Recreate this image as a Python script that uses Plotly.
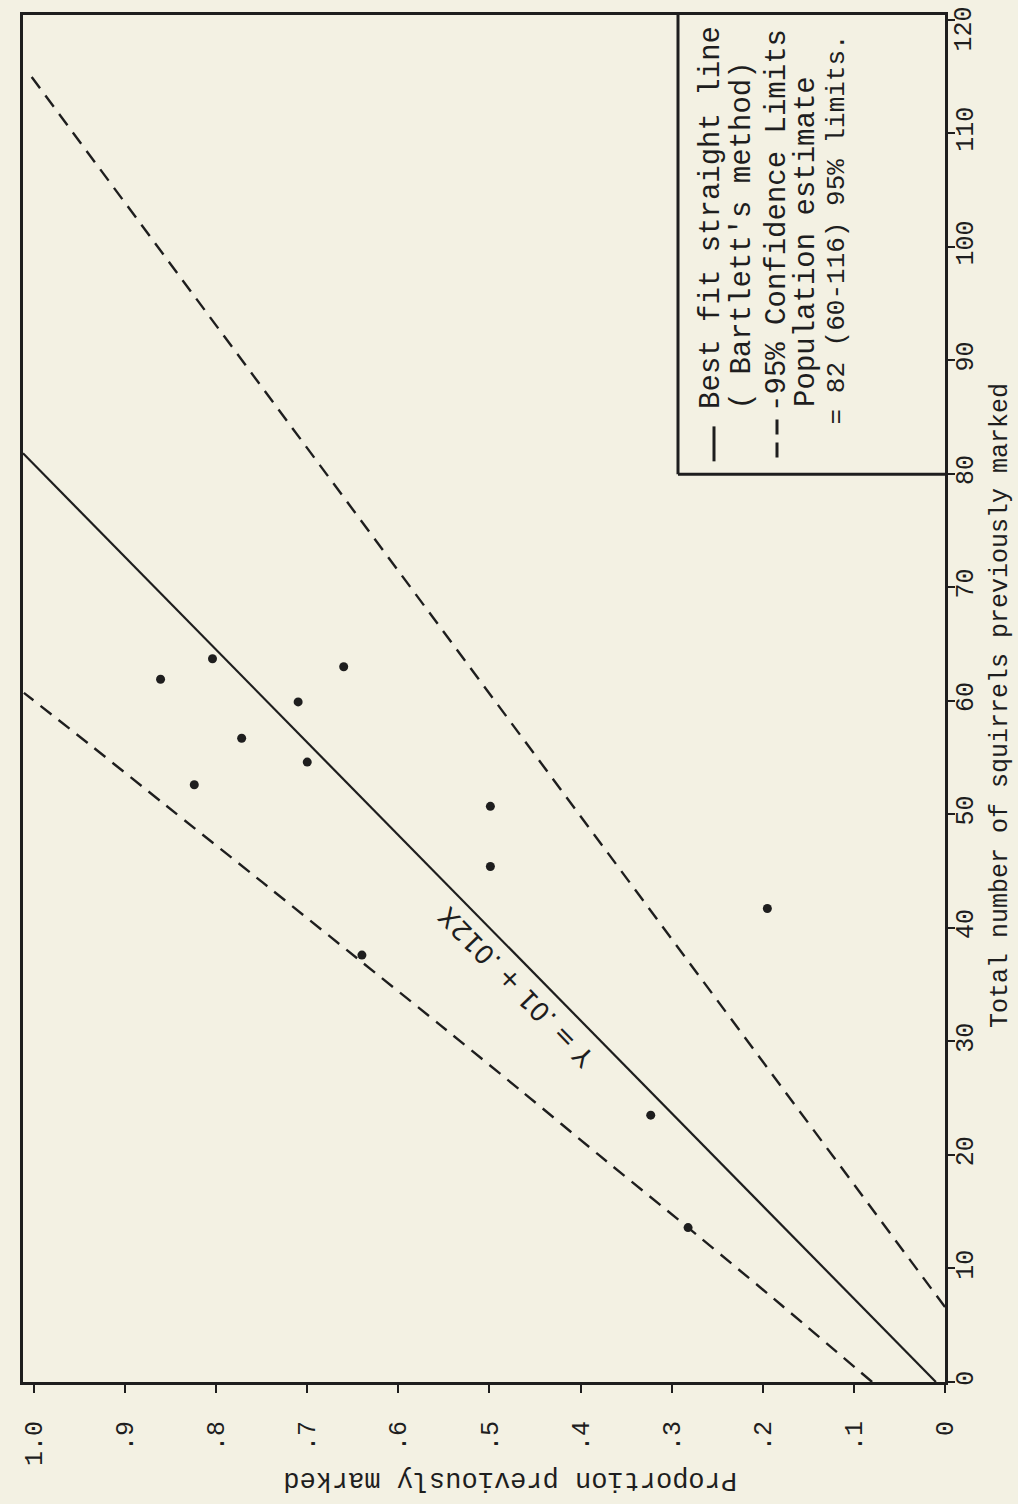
import plotly.graph_objects as go

# ---------------- data ----------------
# observed points: proportion previously marked vs total number previously marked
obs_total = [63.7, 61.9, 63.0, 59.9, 56.7, 54.6, 52.6, 50.7, 45.4, 37.6, 41.7, 23.5, 13.6]
obs_prop = [0.804, 0.861, 0.660, 0.710, 0.772, 0.700, 0.824, 0.499, 0.499, 0.640, 0.195, 0.323, 0.282]

# best fit straight line (Bartlett's method), Y = .01 + .012X
fit_total = [0.0, 81.8]
fit_prop = [0.01, 1.012]

# 95% confidence limits
upper_total = [0.0, 6.8, 13.6, 20.0, 25.5, 31.5, 37.3, 44.0, 50.9, 55.9, 60.7]
upper_prop = [0.08, 0.180, 0.282, 0.380, 0.463, 0.555, 0.645, 0.749, 0.857, 0.935, 1.011]
lower_total = [6.6, 115.1]
lower_prop = [0.0, 1.004]

prop_ticks = [0, 0.1, 0.2, 0.3, 0.4, 0.5, 0.6, 0.7, 0.8, 0.9, 1.0]
prop_ticktext = ["0", ".1", ".2", ".3", ".4", ".5", ".6", ".7", ".8", ".9", "1.0"]
total_ticks = [0, 10, 20, 30, 40, 50, 60, 70, 80, 90, 100, 110, 120]
total_ticktext = ["0", "10", "20", "30", "40", "50", "60", "70", "80", "90", "100", "110", "120"]

legend_lines = [
    "Best fit straight line",
    "( Bartlett's method)",
    "-95% Confidence Limits",
    "Population estimate",
    "= 82 (60-116) 95% limits.",
]
equation_text = "Y = .01 + .012X"
x_title = "Total number of squirrels previously marked"
y_title = "Proportion previously marked"

# ---------------- figure ----------------
INK = "#1e1e1e"
BG = "#f3f1e3"
MONO = "Liberation Mono, Courier New, monospace"

W, H = 1018, 1504
ML, MR, MT, MB = 23, 73, 13, 122
PW, PH = W - ML - MR, H - MT - MB


def px(xp):
    return (xp - ML) / PW


def py(yp):
    return (H - MB - yp) / PH


fig = go.Figure()

fig.add_trace(go.Scatter(x=upper_prop, y=upper_total, mode="lines",
                         line=dict(color=INK, width=2.4, dash="14px,9px", shape="spline",
                                   smoothing=0.6),
                         hoverinfo="skip"))
fig.add_trace(go.Scatter(x=lower_prop, y=lower_total, mode="lines",
                         line=dict(color=INK, width=2.4, dash="14px,9px"),
                         hoverinfo="skip"))
fig.add_trace(go.Scatter(x=fit_prop, y=fit_total, mode="lines",
                         line=dict(color=INK, width=2.2), hoverinfo="skip"))
fig.add_trace(go.Scatter(x=obs_prop, y=obs_total, mode="markers",
                         marker=dict(color=INK, size=9)))

annotations = []
# axis titles
annotations.append(dict(xref="paper", yref="paper", x=px(1001), y=py(705),
                        text=x_title, showarrow=False, textangle=-90,
                        font=dict(family=MONO, size=25, color=INK),
                        xanchor="center", yanchor="middle"))
annotations.append(dict(xref="paper", yref="paper", x=px(510), y=py(1480),
                        text=y_title, showarrow=False, textangle=180,
                        font=dict(family=MONO, size=27, color=INK),
                        xanchor="center", yanchor="middle"))
# top tick label (kept inside the page, as in the original)
annotations.append(dict(xref="paper", yref="y", x=px(965), y=total_ticks[-1],
                        text=total_ticktext[-1], showarrow=False, textangle=-90,
                        yshift=-10, font=dict(family=MONO, size=25, color=INK),
                        xanchor="center", yanchor="middle"))
# legend text
leg_x = [712, 742, 778, 807, 837]
leg_y0 = [410, 410, 413, 408, 425]
leg_size = [29, 29, 29, 29, 26]
for t, lx, ly, fs in zip(legend_lines, leg_x, leg_y0, leg_size):
    annotations.append(dict(xref="paper", yref="paper", x=px(lx), y=py(ly),
                            text=t, showarrow=False, textangle=-90,
                            font=dict(family=MONO, size=fs, color=INK),
                            xanchor="center", yanchor="bottom"))
# equation along the fitted line
annotations.append(dict(xref="x", yref="y", x=0.471, y=34.8, text=equation_text,
                        showarrow=False, textangle=-134,
                        font=dict(family="DejaVu Sans, sans-serif", size=26, color=INK),
                        xanchor="center", yanchor="middle"))

shapes = [
    # legend box (left and bottom edges)
    dict(type="line", xref="paper", yref="paper", x0=px(678), x1=px(678),
         y0=1, y1=py(473), line=dict(color=INK, width=3)),
    dict(type="line", xref="paper", yref="paper", x0=px(678), x1=1,
         y0=py(473), y1=py(473), line=dict(color=INK, width=3)),
    # legend symbols
    dict(type="line", xref="paper", yref="paper", x0=px(714), x1=px(714),
         y0=py(425), y1=py(460), line=dict(color=INK, width=3)),
    dict(type="line", xref="paper", yref="paper", x0=px(777), x1=px(777),
         y0=py(418), y1=py(463), line=dict(color=INK, width=3, dash="15px,8px")),
]

axis_ticktext = total_ticktext[:-1] + [""]

fig.update_layout(
    width=W, height=H,
    margin=dict(l=ML, r=MR, t=MT, b=MB, pad=0),
    paper_bgcolor=BG, plot_bgcolor=BG,
    showlegend=False,
    annotations=annotations,
    shapes=shapes,
    xaxis=dict(range=[1.012, 0], tickvals=prop_ticks, ticktext=prop_ticktext,
               tickangle=-90, ticks="outside", ticklen=8, tickwidth=2, tickcolor=INK,
               showline=True, linewidth=3, linecolor=INK, mirror=True,
               showgrid=False, zeroline=False, ticklabelstandoff=18,
               tickfont=dict(family=MONO, size=25, color=INK)),
    yaxis=dict(range=[0, 120.4], tickvals=total_ticks, ticktext=axis_ticktext,
               side="right", tickangle=-90, ticks="outside", ticklen=7, tickwidth=2,
               tickcolor=INK, showline=True, linewidth=3, linecolor=INK, mirror=True,
               showgrid=False, zeroline=False, ticklabelstandoff=-12,
               tickfont=dict(family=MONO, size=25, color=INK)),
)

fig.write_html(
    "out.html",
    config={"displayModeBar": False},
    post_script="document.body.style.margin='0px';"
                "document.body.style.overflow='hidden';"
                "document.body.style.background='#f3f1e3';",
)
